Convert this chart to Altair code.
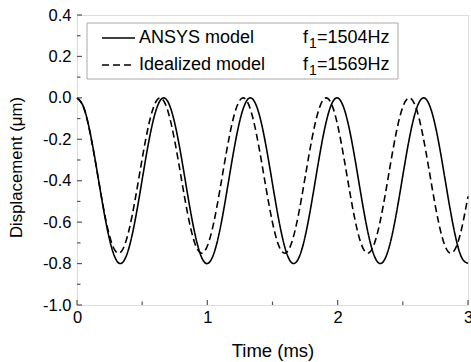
import altair as alt
import pandas as pd

# ---------------- data ----------------
time_ms = [0.00, 0.05, 0.10, 0.15, 0.20, 0.25, 0.30, 0.35, 0.40, 0.45,
           0.50, 0.55, 0.60, 0.65, 0.70, 0.75, 0.80, 0.85, 0.90, 0.95,
           1.00, 1.05, 1.10, 1.15, 1.20, 1.25, 1.30, 1.35, 1.40, 1.45,
           1.50, 1.55, 1.60, 1.65, 1.70, 1.75, 1.80, 1.85, 1.90, 1.95,
           2.00, 2.05, 2.10, 2.15, 2.20, 2.25, 2.30, 2.35, 2.40, 2.45,
           2.50, 2.55, 2.60, 2.65, 2.70, 2.75, 2.80, 2.85, 2.90, 2.95,
           3.00]

ansys_um = [0.0000, -0.0438, -0.1658, -0.3389, -0.5255, -0.6846, -0.7814, -0.7945, -0.7212, -0.5775,
            -0.3950, -0.2135, -0.0729, -0.0040, -0.0218, -0.1225, -0.2841, -0.4710, -0.6424, -0.7606,
            -0.7999, -0.7515, -0.6261, -0.4511, -0.2650, -0.1084, -0.0158, -0.0073, -0.0849, -0.2315,
            -0.4151, -0.5953, -0.7328, -0.7973, -0.7748, -0.6702, -0.5063, -0.3192, -0.1496, -0.0351,
            -0.0005, -0.0534, -0.1823, -0.3589, -0.5445, -0.6984, -0.7869, -0.7907, -0.7087, -0.5593,
            -0.3749, -0.1959, -0.0617, -0.0016, -0.0288, -0.1372, -0.3034, -0.4907, -0.6581, -0.7689,
            -0.7989]

ideal_um = [0.0000, -0.0446, -0.1679, -0.3405, -0.5213, -0.6673, -0.7437, -0.7323, -0.6357, -0.4772,
            -0.2943, -0.1307, -0.0251, -0.0029, -0.0693, -0.2084, -0.3872, -0.5631, -0.6943, -0.7493,
            -0.7153, -0.6003, -0.4316, -0.2494, -0.0972, -0.0111, -0.0116, -0.0987, -0.2516, -0.4338,
            -0.6020, -0.7163, -0.7492, -0.6930, -0.5612, -0.3850, -0.2064, -0.0680, -0.0026, -0.0260,
            -0.1323, -0.2965, -0.4794, -0.6374, -0.7329, -0.7433, -0.6658, -0.5193, -0.3383, -0.1661,
            -0.0436, 0.0000, -0.0457, -0.1698, -0.3428, -0.5234, -0.6687, -0.7441, -0.7316, -0.6342,
            -0.4751]

series_names = ["ANSYS model", "Idealized model"]
freq_values = ["=1504Hz", "=1569Hz"]

x_major = [0, 1, 2, 3]
x_minor = [0.5, 1.5, 2.5]
y_major = [-1.0, -0.8, -0.6, -0.4, -0.2, 0.0, 0.2, 0.4]
y_minor = [-0.9, -0.7, -0.5, -0.3, -0.1, 0.1, 0.3]

# ---------------- layout ----------------
W, H = 391, 290
FONT = "Liberation Sans"
FRAME = "#555555"

df = pd.DataFrame({
    "t": time_ms * 2,
    "d": ansys_um + ideal_um,
    "s": [series_names[0]] * len(time_ms) + [series_names[1]] * len(time_ms),
})

xscale = alt.Scale(domain=[0, 3], nice=False, zero=False)
yscale = alt.Scale(domain=[-1.0, 0.4], nice=False, zero=False)

lines = alt.Chart(df).mark_line(interpolate="natural", strokeWidth=1.6, color="black").encode(
    x=alt.X("t:Q", scale=xscale,
            axis=alt.Axis(values=x_major, format="d", title="Time (ms)",
                          ticks=False, domain=False, grid=False,
                          labelPadding=4, labelFontSize=16.5, titleFontSize=18.5,
                          titleFontWeight="normal", titleX=W / 2, titleY=36,
                          labelFont=FONT, titleFont=FONT, labelColor="black",
                          titleColor="black", labelFlush=False)),
    y=alt.Y("d:Q", scale=yscale,
            axis=alt.Axis(values=y_major, title="Displacement (\u03bcm)",
                          labelExpr="datum.value < 0 ? '-' + format(-datum.value, '.1f') : format(datum.value, '.1f')",
                          ticks=False, domain=False, grid=False,
                          labelPadding=6, labelFontSize=16.5, titleFontSize=16.8,
                          titleFontWeight="normal", titleX=-52, titleY=152,
                          labelFont=FONT, titleFont=FONT, labelColor="black",
                          titleColor="black", labelFlush=False)),
    strokeDash=alt.StrokeDash("s:N", scale=alt.Scale(domain=series_names, range=[[1, 0], [7, 4]]),
                              legend=None),
    detail="s:N",
)

# inward ticks
yt_major = alt.Chart(pd.DataFrame({"v": y_major})).mark_rule(color=FRAME, strokeWidth=1.2).encode(
    y=alt.Y("v:Q", scale=yscale), x=alt.value(0), x2=alt.value(5))
yt_minor = alt.Chart(pd.DataFrame({"v": y_minor})).mark_rule(color=FRAME, strokeWidth=1.2).encode(
    y=alt.Y("v:Q", scale=yscale), x=alt.value(0), x2=alt.value(3.5))
xt_major = alt.Chart(pd.DataFrame({"v": x_major})).mark_rule(color=FRAME, strokeWidth=1.2).encode(
    x=alt.X("v:Q", scale=xscale), y=alt.value(H), y2=alt.value(H - 5))
xt_minor = alt.Chart(pd.DataFrame({"v": x_minor})).mark_rule(color=FRAME, strokeWidth=1.2).encode(
    x=alt.X("v:Q", scale=xscale), y=alt.value(H), y2=alt.value(H - 3.5))

# legend box
one = pd.DataFrame({"k": [0]})
leg_box = alt.Chart(one).mark_rect(fill="white", stroke="#aaaaaa", strokeWidth=1).encode(
    x=alt.value(10), x2=alt.value(321), y=alt.value(8), y2=alt.value(64))
leg_solid = alt.Chart(one).mark_rule(color="black", strokeWidth=1.6).encode(
    x=alt.value(25), x2=alt.value(58), y=alt.value(23))
leg_dash = alt.Chart(one).mark_rule(color="black", strokeWidth=1.6, strokeDash=[7, 4]).encode(
    x=alt.value(25), x2=alt.value(58), y=alt.value(50))


def txt(s, x, y, size=18):
    return alt.Chart(one).mark_text(align="left", baseline="middle", font=FONT,
                                    fontSize=size, color="black").encode(
        x=alt.value(x), y=alt.value(y), text=alt.value(s))


legend_layers = [
    leg_box, leg_solid, leg_dash,
    txt(series_names[0], 62, 23), txt(series_names[1], 62, 50),
    txt("f", 226, 23), txt("1", 232, 29, 14), txt(freq_values[0], 240, 23),
    txt("f", 226, 50), txt("1", 232, 56, 14), txt(freq_values[1], 240, 50),
]

chart = alt.layer(lines, yt_major, yt_minor, xt_major, xt_minor, *legend_layers).properties(
    width=W, height=H,
    autosize=alt.AutoSizeParams(type="none"),
    padding={"left": 77, "top": 15, "right": 3, "bottom": 57},
).configure_view(stroke=FRAME, strokeWidth=1.8).configure(background="white")

chart.save("out.html", embed_options={"renderer": "svg", "actions": False})
